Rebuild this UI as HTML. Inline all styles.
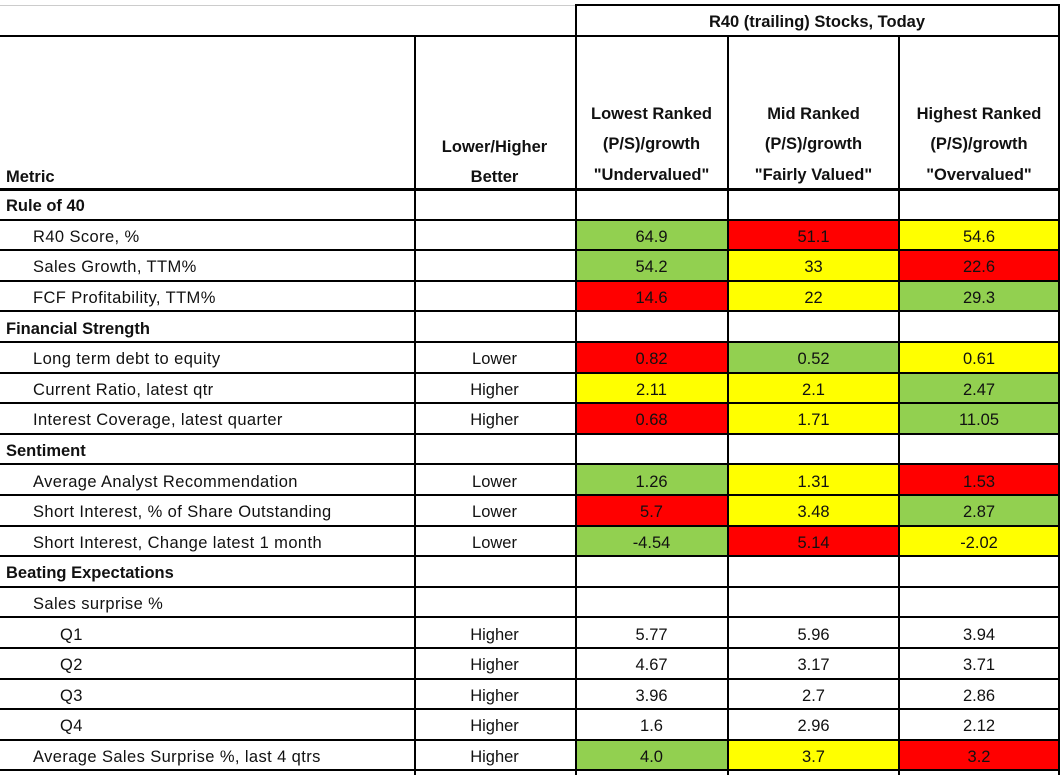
<!DOCTYPE html>
<html><head><meta charset="utf-8"><style>
body{margin:0;width:1063px;height:776px;background:#fff;font-family:"Liberation Sans",sans-serif;position:relative;overflow:hidden}
.c{position:absolute;box-sizing:border-box;display:flex;align-items:center;font-size:16.5px;color:#111;white-space:nowrap;padding-top:5px}
.ln{position:absolute;background:#000}
.g{background:#92d050}.r{background:#ff0000}.y{background:#ffff00}
.b{font-weight:bold}
</style></head><body>
<div id="t"></div>
<script>
const xs=[0,414,575,728,899,1059];
const y0=189, rh=30.6;
const metrics=[
["Rule of 40",0,1,""],["R40 Score, %",1,0,""],["Sales Growth, TTM%",1,0,""],["FCF Profitability, TTM%",1,0,""],
["Financial Strength",0,1,""],["Long term debt to equity",1,0,"Lower"],["Current Ratio, latest qtr",1,0,"Higher"],["Interest Coverage, latest quarter",1,0,"Higher"],
["Sentiment",0,1,""],["Average Analyst Recommendation",1,0,"Lower"],["Short Interest, % of Share Outstanding",1,0,"Lower"],["Short Interest, Change latest 1 month",1,0,"Lower"],
["Beating Expectations",0,1,""],["Sales surprise %",1,0,""],["Q1",2,0,"Higher"],["Q2",2,0,"Higher"],["Q3",2,0,"Higher"],["Q4",2,0,"Higher"],["Average Sales Surprise %, last 4 qtrs",1,0,"Higher"]];
const lowVals=["","64.9","54.2","14.6","","0.82","2.11","0.68","","1.26","5.7","-4.54","","","5.77","4.67","3.96","1.6","4.0"];
const midVals=["","51.1","33","22","","0.52","2.1","1.71","","1.31","3.48","5.14","","","5.96","3.17","2.7","2.96","3.7"];
const highVals=["","54.6","22.6","29.3","","0.61","2.47","11.05","","1.53","2.87","-2.02","","","3.94","3.71","2.86","2.12","3.2"];
const lowCol=["","g","g","r","","r","y","r","","g","r","g","","","","","","","g"];
const midCol=["","r","y","y","","g","y","y","","y","y","r","","","","","","","y"];
const highCol=["","y","r","g","","y","g","g","","r","g","y","","","","","","","r"];
const T=document.body;
function cell(x,y,w,h,txt,cls,just,name){const d=document.createElement('div');d.className='c '+(cls||'');
d.style.cssText=`left:${x}px;top:${y}px;width:${w}px;height:${h}px;justify-content:${just||'center'};`+(just=='flex-start'?'padding-left:6px':'');
d.textContent=txt;


T.appendChild(d);return d;}
function line(x,y,w,h,col){const d=document.createElement('div');d.className='ln';d.style.cssText=`left:${x}px;top:${y}px;width:${w}px;height:${h}px;`+(col?'background:'+col:'');


T.appendChild(d);}
cell(575,5,484,30,"R40 (trailing) Stocks, Today","b",'center','group-header');
let h=cell(0,155,414,40,"Metric","b",'flex-start','metric-header');
h=cell(414,124,161,70,"Lower/Higher\nBetter","b",'center','direction-header');h.style.whiteSpace='pre';h.style.textAlign='center';h.style.lineHeight='30px';
const hdr=[["Lowest Ranked\n(P/S)/growth\n\"Undervalued\"","lowest-ranked-header"],["Mid Ranked\n(P/S)/growth\n\"Fairly Valued\"","mid-ranked-header"],["Highest Ranked\n(P/S)/growth\n\"Overvalued\"","highest-ranked-header"]];
hdr.forEach((v,i)=>{const d=cell(xs[i+2],96,xs[i+3]-xs[i+2],92,v[0],"b",'center',v[1]);d.style.whiteSpace='pre';d.style.textAlign='center';d.style.lineHeight='30.5px';});
metrics.forEach((m,i)=>{const y=y0+i*rh;
 const d=cell(0,y,414,rh,m[0],m[2]?'b':'','flex-start','metric-label');d.style.paddingLeft=(6+m[1]*27)+'px';d.style.letterSpacing=m[2]?'0':'0.4px';
 cell(414,y,161,rh,m[3],'','center','direction-cell');
 cell(575,y,153,rh,lowVals[i],lowCol[i],'center','lowest-value');
 cell(728,y,171,rh,midVals[i],midCol[i],'center','mid-value');
 cell(899,y,160,rh,highVals[i],highCol[i],'center','highest-value');
});
line(0,5,575,1,'#ccc');line(575,4,485,2);line(0,35,1059,2);
line(414,35,2,740);line(575,4,2,771);line(727,35,2,740);line(898,35,2,740);line(1058,4,2,771);
line(0,188,1059,3);
for(let i=1;i<=19;i++)line(0,Math.round(y0+i*rh)-1,1059,2);
</script>
</body></html>
